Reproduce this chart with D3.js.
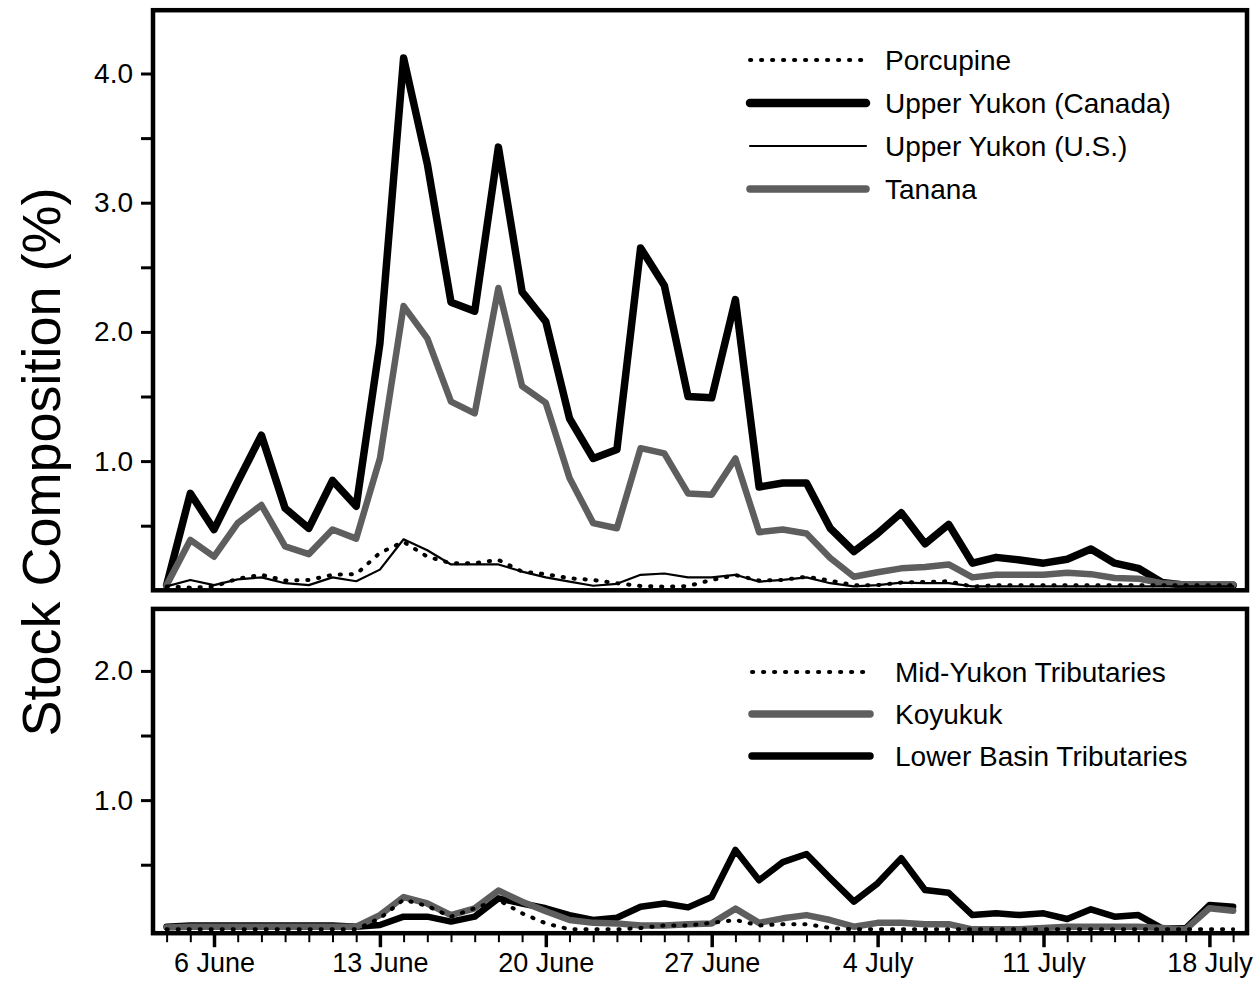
<!DOCTYPE html>
<html>
<head>
<meta charset="utf-8">
<script src="https://cdn.jsdelivr.net/npm/d3@7/dist/d3.min.js"></script>
<style>
  html, body { margin: 0; padding: 0; background: #fff; }
  svg { display: block; }
  text { font-family: "Liberation Sans", Arial, Helvetica, sans-serif; fill: #000; }
</style>
</head>
<body>
<svg id="chart" width="1260" height="983"></svg>
<script>
// ---- DATA (day number counted from 31 May: 4 = 4 June, 34 = 4 July) ----
const days = [4,5,6,7,8,9,10,11,12,13,14,15,16,17,18,19,20,21,22,23,24,25,26,27,28,29,30,
              31,32,33,34,35,36,37,38,39,40,41,42,43,44,45,46,47,48,49];

const xTickDays   = [6, 13, 20, 27, 34, 41, 48];
const xTickLabels = ["6 June", "13 June", "20 June", "27 June", "4 July", "11 July", "18 July"];

const topTicks    = [0.5, 1, 1.5, 2, 2.5, 3, 3.5, 4];
const topLabels   = {1: "1.0", 2: "2.0", 3: "3.0", 4: "4.0"};
const botTicks    = [0.5, 1, 1.5, 2];
const botLabels   = {1: "1.0", 2: "2.0"};

// Top panel series
const porcupine = [0.03,0.02,0.03,0.09,0.12,0.075,0.08,0.12,0.125,0.29,0.375,0.26,0.21,0.21,0.235,0.145,0.125,
                   0.093,0.08,0.055,0.033,0.028,0.033,0.08,0.118,0.075,0.08,
                   0.105,0.075,0.04,0.04,0.06,0.065,0.07,0.028,0.04,0.04,0.04,0.04,0.04,0.04,0.04,0.04,0.04,0.04,0.04];
const upperYukonCanada = [0.04,0.75,0.47,0.84,1.20,0.635,0.48,0.85,0.65,1.91,4.12,3.30,2.23,2.16,3.43,2.31,2.08,
                   1.33,1.02,1.09,2.65,2.36,1.50,1.49,2.25,0.80,0.83,
                   0.83,0.48,0.30,0.44,0.60,0.36,0.51,0.21,0.255,0.235,0.21,0.24,0.32,0.21,0.17,0.06,0.04,0.04,0.04];
const upperYukonUS = [0.03,0.08,0.04,0.085,0.10,0.055,0.04,0.10,0.07,0.16,0.395,0.31,0.20,0.20,0.20,0.145,0.10,
                   0.067,0.035,0.05,0.12,0.13,0.10,0.10,0.12,0.067,0.08,
                   0.10,0.055,0.03,0.04,0.06,0.055,0.055,0.03,0.03,0.03,0.03,0.03,0.03,0.03,0.03,0.03,0.03,0.03,0.03];
const tanana = [0.04,0.39,0.26,0.52,0.66,0.34,0.28,0.47,0.40,1.02,2.20,1.95,1.46,1.37,2.34,1.58,1.45,
                   0.87,0.52,0.48,1.10,1.06,0.75,0.74,1.02,0.45,0.47,
                   0.44,0.25,0.105,0.14,0.17,0.18,0.20,0.10,0.12,0.12,0.12,0.135,0.125,0.095,0.09,0.055,0.045,0.045,0.045];

// Bottom panel series
const midYukon = [0,0,0,0,0,0,0,0,0,0.085,0.23,0.18,0.098,0.163,0.227,0.124,0.046,
                   0,0,0,0.01,0.03,0.03,0.05,0.072,0.03,0.04,
                   0.04,0.01,0,0,0,0,0,0,0,0,0,0,0,0,0,0,0,0,0];
const koyukuk = [0.015,0.02,0.02,0.02,0.02,0.02,0.02,0.02,0.02,0.11,0.25,0.20,0.11,0.163,0.30,0.214,0.14,
                   0.072,0.05,0.046,0.03,0.03,0.04,0.046,0.16,0.05,0.085,
                   0.11,0.072,0.02,0.05,0.05,0.04,0.04,0,0,0,0.01,0.02,0.02,0.02,0.02,0.01,0,0.163,0.144];
const lowerBasin = [0.02,0.03,0.03,0.03,0.03,0.03,0.03,0.03,0.02,0.033,0.098,0.098,0.06,0.098,0.24,0.20,0.163,
                   0.11,0.072,0.09,0.175,0.20,0.17,0.25,0.614,0.38,0.52,
                   0.583,0.395,0.214,0.356,0.55,0.304,0.283,0.11,0.124,0.11,0.124,0.08,0.155,0.098,0.11,0.008,0.008,0.188,0.175];

const GRAY = "#5e5e5e";
const FONT = 28;

// ---- SCALES ----
const svg = d3.select("#chart");
const x = d3.scaleLinear().domain([3.426, 49.586]).range([153, 1247]);
const yTop = d3.scaleLinear().domain([0, 4.49]).range([590.3, 10.2]);
const yBot = d3.scaleLinear().domain([-0.03, 2.48]).range([933.2, 608.9]);

function drawPanel(y, ticks, labels) {
  const g = svg.append("g");
  const [x0] = x.range();
  const ax = d3.axisLeft(y).tickValues(ticks).tickSize(12).tickPadding(8)
      .tickFormat(d => labels[d] || "");
  const ga = g.append("g").attr("transform", `translate(${x0},0)`).call(ax);
  ga.select(".domain").remove();
  ga.selectAll("line").attr("stroke", "#000").attr("stroke-width", 3);
  ga.selectAll("text").attr("font-size", FONT).attr("fill", "#000")
    .attr("font-family", '"Liberation Sans", Arial, sans-serif');
  return g;
}

function drawFrame(y) {
  const [x0, x1] = x.range();
  const [yb, yt] = y.range();
  svg.append("rect").attr("x", x0).attr("y", yt).attr("width", x1 - x0).attr("height", yb - yt)
    .attr("fill", "none").attr("stroke", "#000").attr("stroke-width", 4.5);
}

function drawLine(y, values, style) {
  const line = d3.line().x((d, i) => x(days[i])).y(d => y(d));
  const p = svg.append("path").datum(values).attr("d", line)
    .attr("fill", "none").attr("stroke", style.color).attr("stroke-width", style.width)
    .attr("stroke-linejoin", "round").attr("stroke-linecap", "round");
  if (style.dash) p.attr("stroke-dasharray", style.dash);
  return p;
}

const S = {
  dotted: {color: "#000", width: 4, dash: "1.2 9.8"},
  thick:  {color: "#000", width: 7.5},
  thin:   {color: "#000", width: 2.2},
  gray:   {color: GRAY, width: 6.5},
  black:  {color: "#000", width: 6.5}
};

// ---- TOP PANEL ----
drawPanel(yTop, topTicks, topLabels);
drawLine(yTop, upperYukonCanada, S.thick);
drawLine(yTop, tanana, S.gray);
drawLine(yTop, upperYukonUS, S.thin);
drawLine(yTop, porcupine, S.dotted);
drawFrame(yTop);

// ---- BOTTOM PANEL ----
drawPanel(yBot, botTicks, botLabels);
drawLine(yBot, lowerBasin, S.black);
drawLine(yBot, koyukuk, S.gray);
drawLine(yBot, midYukon, S.dotted);
drawFrame(yBot);

// x axis (bottom panel): minor daily ticks + major weekly ticks with labels
const axisY = yBot.range()[0];
const gm = svg.append("g").attr("transform", `translate(0,${axisY})`)
  .call(d3.axisBottom(x).tickValues(days).tickSize(9).tickFormat(""));
gm.select(".domain").remove();
gm.selectAll("line").attr("stroke", "#000").attr("stroke-width", 2);
const gM = svg.append("g").attr("transform", `translate(0,${axisY})`)
  .call(d3.axisBottom(x).tickValues(xTickDays).tickSize(14).tickPadding(6)
        .tickFormat((d, i) => xTickLabels[i]));
gM.select(".domain").remove();
gM.selectAll("line").attr("stroke", "#000").attr("stroke-width", 3.5);
gM.selectAll("text").attr("font-size", 27).attr("fill", "#000")
  .attr("font-family", '"Liberation Sans", Arial, sans-serif');

// ---- Y TITLE ----
svg.append("text").attr("transform", "translate(60,462) rotate(-90)")
  .attr("text-anchor", "middle").attr("font-size", 54).text("Stock Composition (%)");

// ---- LEGENDS ----
function legend(items, rows, lineX0, lineX1, textX) {
  items.forEach((it, i) => {
    const yy = rows[i];
    const l = svg.append("line").attr("x1", lineX0).attr("x2", lineX1).attr("y1", yy).attr("y2", yy)
      .attr("stroke", it.style.color).attr("stroke-width", it.lw || it.style.width)
      .attr("stroke-linecap", "round");
    if (it.style.dash) l.attr("stroke-dasharray", it.style.dash);
    svg.append("text").attr("x", textX).attr("y", yy).attr("dy", "0.36em")
      .attr("font-size", 28).text(it.name);
  });
}
const topLegendNames = ["Porcupine", "Upper Yukon (Canada)", "Upper Yukon (U.S.)", "Tanana"];
const topLegendRows = [60, 103, 146, 189];
legend([
  {name: topLegendNames[0], style: S.dotted},
  {name: topLegendNames[1], style: S.thick, lw: 8.5},
  {name: topLegendNames[2], style: S.thin},
  {name: topLegendNames[3], style: S.gray, lw: 7.5}
], topLegendRows, 750, 866, 885);

const botLegendNames = ["Mid-Yukon Tributaries", "Koyukuk", "Lower Basin Tributaries"];
const botLegendRows = [672, 714, 756];
legend([
  {name: botLegendNames[0], style: S.dotted},
  {name: botLegendNames[1], style: S.gray, lw: 7.5},
  {name: botLegendNames[2], style: S.black, lw: 7.5}
], botLegendRows, 752, 870, 895);
</script>
</body>
</html>
